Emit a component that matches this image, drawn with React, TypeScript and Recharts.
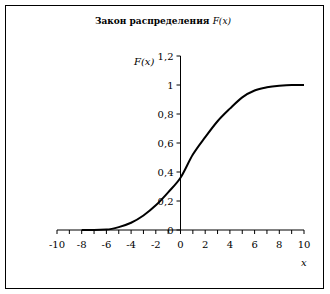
import React from 'react';
import { LineChart, Line, XAxis, YAxis, ReferenceLine } from 'recharts';

const xValues = [-8, -7, -6, -5, -4, -3, -2, -1, 0, 1, 2, 3, 4, 5, 6, 7, 8, 9, 10];
const fValues = [0, 0, 0.003, 0.02, 0.05, 0.1, 0.17, 0.26, 0.36, 0.52, 0.64, 0.75, 0.837, 0.915, 0.962, 0.984, 0.995, 1, 1];
const xTicks = [-10, -9, -8, -7, -6, -5, -4, -3, -2, -1, 0, 1, 2, 3, 4, 5, 6, 7, 8, 9, 10];
const yTicks = [0, 0.2, 0.4, 0.6, 0.8, 1, 1.2];

const data = xValues.map((x, i) => ({ x, f: fValues[i] }));

const W = 330;
const H = 294;
const M = { top: 56, right: 26, bottom: 34, left: 56 };
const Y_W = 1;
const PLOT_W = W - M.left - Y_W - M.right;
const AXIS_X = M.left + Y_W + PLOT_W / 2;
const FONT = '"DejaVu Serif", serif';
const TICK_FS = 10;

const fmt = (v: number) => String(Math.round(v * 10) / 10).replace('.', ',');

const XTick = (props: any) => {
  const { x, y, payload } = props;
  if (payload.value % 2 !== 0) return null;
  return (
    <text x={x} y={y + 12} textAnchor="middle" fontFamily={FONT} fontSize={TICK_FS} fill="#000">
      {fmt(payload.value)}
    </text>
  );
};

const YTick = (props: any) => {
  const { y, payload } = props;
  return (
    <g>
      <line x1={AXIS_X - 4} x2={AXIS_X} y1={y} y2={y} stroke="#000" />
      <text x={AXIS_X - 7} y={y + 4} textAnchor="end" fontFamily={FONT} fontSize={TICK_FS} fill="#000">
        {fmt(payload.value)}
      </text>
    </g>
  );
};

export default function App() {
  return (
    <div style={{ position: 'absolute', left: 0, top: 0, width: W, height: H, background: '#fff' }}>
      <div
        style={{
          position: 'absolute', left: 5, top: 5, width: 319, height: 284,
          boxSizing: 'border-box', border: '1px solid #000',
        }}
      />
      <div
        style={{
          position: 'absolute', left: 0, top: 14, width: 326, textAlign: 'center',
          fontFamily: FONT, fontSize: 9, fontWeight: 'bold', color: '#000', lineHeight: '14px',
        }}
      >
        Закон распределения <span style={{ fontStyle: 'italic', fontWeight: 'normal' }}>F(x)</span>
      </div>
      <div
        style={{
          position: 'absolute', left: 134, top: 55, fontFamily: FONT, fontSize: TICK_FS,
          fontStyle: 'italic', color: '#000', lineHeight: '14px',
        }}
      >
        F(x)
      </div>
      <div
        style={{
          position: 'absolute', left: 301, top: 256, fontFamily: FONT, fontSize: TICK_FS,
          fontStyle: 'italic', color: '#000', lineHeight: '14px',
        }}
      >
        x
      </div>
      <div style={{ position: 'absolute', left: 0, top: 0 }}>
        <LineChart width={W} height={H} data={data} margin={M}>
          <XAxis
            dataKey="x"
            type="number"
            domain={[-10, 10]}
            ticks={xTicks}
            interval={0}
            height={30}
            axisLine={{ stroke: '#000' }}
            tickLine={{ stroke: '#000' }}
            tickSize={4}
            tick={<XTick />}
          />
          <YAxis
            type="number"
            domain={[0, 1.2]}
            ticks={yTicks}
            interval={0}
            width={Y_W}
            axisLine={false}
            tickLine={false}
            tick={(p: any) => <YTick {...p} />}
          />
          <ReferenceLine x={0} stroke="#000" />
          <Line
            type="monotone"
            dataKey="f"
            stroke="#000"
            strokeWidth={2}
            dot={false}
            isAnimationActive={false}
          />
        </LineChart>
      </div>
    </div>
  );
}
